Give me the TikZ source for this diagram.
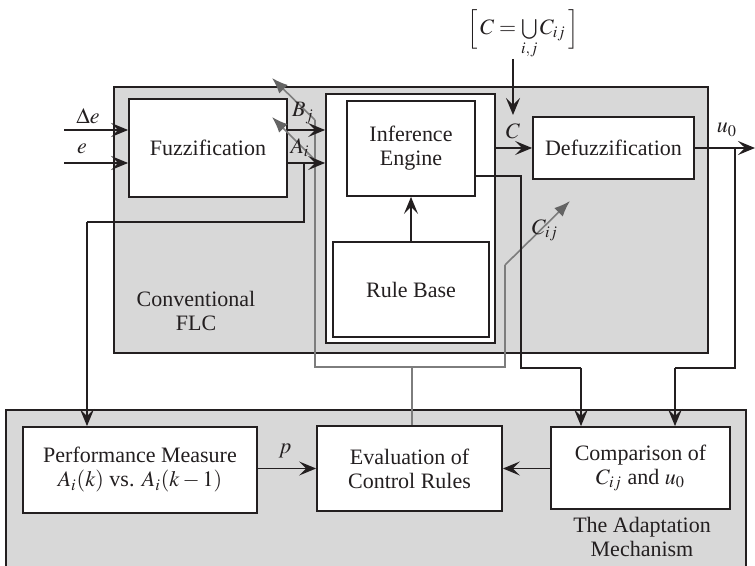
\documentclass[tikz,border=0pt]{standalone}
\usepackage{mathptmx}
\usepackage[no-math]{fontspec}
\setmainfont{Liberation Serif}
\usetikzlibrary{arrows.meta}
\definecolor{panel}{RGB}{216,216,216}
\definecolor{ink}{RGB}{35,31,32}
\definecolor{gline}{RGB}{125,125,125}
\definecolor{ghead}{RGB}{100,100,100}
\begin{document}
\begin{tikzpicture}[x=0.5pt,y=-0.5pt,
  every node/.style={text=ink, font=\fontsize{11}{12}\selectfont},
  sz/.style 2 args={minimum width=#1*0.5pt, minimum height=#2*0.5pt},
  panelbox/.style={draw=ink, line width=0.9pt, fill=panel, inner sep=0pt},
  whitebox/.style={draw=ink, line width=0.9pt, fill=white, inner sep=0pt, align=center},
  conn/.style={draw=ink, line width=0.9pt, -{Stealth[length=8.5pt,width=7pt,inset=3.5pt]}},
  wire/.style={draw=ink, line width=0.9pt},
  gwire/.style={draw=gline, line width=0.8pt},
  garrow/.style={draw=gline, line width=0.8pt, -{Latex[length=8pt,width=6pt,color=ghead]}},
  lbl/.style={inner sep=1pt, align=center}
]
\useasboundingbox (0,0) rectangle (755,566);

% panels
\node[panelbox, sz={594}{266}] (flc) at (411,220) {};
\node[panelbox, sz={740}{180}] (adapt) at (376,500) {};

% white boxes
\node[whitebox, sz={158}{98}] (fuzz) at (208,148) {Fuzzification};
\node[whitebox, sz={169}{249}] (infouter) at (410.5,218.5) {};
\node[whitebox, sz={128}{95}] (ie) at (411,148.5) {Inference\\Engine};
\node[whitebox, sz={156}{95}] (rb) at (411,289.5) {Rule Base};
\node[whitebox, sz={161}{62}] (defz) at (613.5,148) {Defuzzification};
\node[whitebox, sz={234}{86}] (perf) at (140,470) {Performance Measure\\$A_i(k)$ vs. $A_i(k-1)$};
\node[whitebox, sz={185}{85}] (eval) at (409.5,468.5) {Evaluation of\\Control Rules};
\node[whitebox, sz={179}{82}] (comp) at (640.5,468) {Comparison of\\$C_{ij}$ and $u_0$};

% coordinates
\coordinate (din) at (64,130);
\coordinate (ein) at (64,163);
\coordinate (aout) at (304,163);
\coordinate (afb1) at (304,222);
\coordinate (afb2) at (87,222);
\coordinate (iefb0) at (475,176);
\coordinate (iefb1) at (521,176);
\coordinate (iefb2) at (521,368);
\coordinate (iefb3) at (581,368);
\coordinate (uend) at (755,148);
\coordinate (ufb0) at (735,148);
\coordinate (ufb1) at (735,368);
\coordinate (ufb2) at (675,368);
\coordinate (ctop) at (513,59);
\coordinate (cbot) at (513,115);
\coordinate (gtipB) at (272,78);
\coordinate (gB) at (315,120);
\coordinate (gA) at (315,160);
\coordinate (gtipA) at (272,117);
\coordinate (g1) at (315,367);
\coordinate (g2) at (505,367);
\coordinate (g3) at (505,265);
\coordinate (gtipC) at (570,201);
\coordinate (gmid) at (412,367);

% bracket label
\node[lbl, inner sep=0pt] (cset) at (523,34) {$\Bigl[\,C=\bigcup\limits_{i,j}C_{ij}\,\Bigr]$};

% gray connectors
\draw[gwire] (gB) -- (g1) -- (g2) -- (g3);
\draw[garrow] (g3) -- (gtipC);
\draw[garrow] (gB) -- (gtipB);
\draw[garrow] (gA) -- (gtipA);
\draw[gwire] (gmid) -- (gmid |- eval.north);

% black connectors
\draw[conn] (din) -- (din -| fuzz.west);
\draw[conn] (ein) -- (ein -| fuzz.west);
\draw[conn] (fuzz.east |- din) -- (infouter.west |- din);
\draw[conn] (fuzz.east |- ein) -- (infouter.west |- ein);
\draw[wire] (aout) -- (afb1) -- (afb2);
\draw[conn] (afb2) -- (afb2 |- perf.north);
\draw[conn] (infouter.east |- defz.west) -- (defz.west);
\draw[conn] (ctop) -- (cbot);
\draw[conn] (rb.north) -- (ie.south);
\draw[wire] (iefb0) -- (iefb1) -- (iefb2) -- (iefb3);
\draw[conn] (iefb3) -- (iefb3 |- comp.north);
\draw[conn] (defz.east) -- (uend);
\draw[wire] (ufb0) -- (ufb1) -- (ufb2);
\draw[conn] (ufb2) -- (ufb2 |- comp.north);
\draw[conn] (perf.east |- eval.west) -- (eval.west);
\draw[conn] (comp.west |- eval.east) -- (eval.east);

% labels
\node[lbl] (ldelta) at (88,116) {$\Delta e$};
\node[lbl] (le) at (82,149) {$e$};
\node[lbl] (lbj) at (303,113) {$B_j$};
\node[lbl] (lai) at (300,148) {$A_i$};
\node[lbl] (lc) at (513,131) {$C$};
\node[lbl] (lu0) at (727,130) {$u_0$};
\node[lbl] (lcij) at (545,230) {$C_{ij}$};
\node[lbl] (lp) at (285,451) {$p$};
\node[lbl] (lflc) at (196,311) {Conventional\\FLC};
\node[lbl] (ladapt) at (642,537) {The Adaptation\\Mechanism};
\end{tikzpicture}
\end{document}
